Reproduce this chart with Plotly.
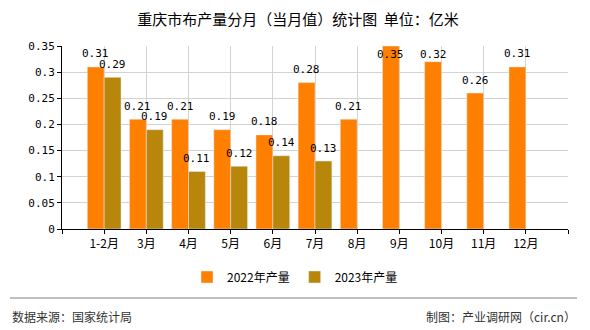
import plotly.graph_objects as go

months = ["1-2月", "3月", "4月", "5月", "6月", "7月", "8月", "9月", "10月", "11月", "12月"]
prod_2022 = [0.31, 0.21, 0.21, 0.19, 0.18, 0.28, 0.21, 0.35, 0.32, 0.26, 0.31]
prod_2023 = [0.29, 0.19, 0.11, 0.12, 0.14, 0.13, None, None, None, None, None]
y_ticks = [0, 0.05, 0.1, 0.15, 0.2, 0.25, 0.3, 0.35]
y_tick_text = ["0", "0.05", "0.1", "0.15", "0.2", "0.25", "0.3", "0.35"]

xpos = list(range(len(months)))
font_cjk = "Noto Sans CJK SC, DejaVu Sans, sans-serif"
font_num = "DejaVu Sans Mono, Liberation Mono, monospace"

Y_MAX = 0.35
PLOT_H = 183  # pixel height of plotting area
PLOT_W = 506

fig = go.Figure()
fig.add_trace(go.Bar(x=xpos, y=prod_2022, name="2022年产量", marker_color="#FF8000"))
fig.add_trace(go.Bar(x=xpos, y=prod_2023, name="2023年产量", marker_color="#B8860B"))

# value labels above bars (clamped inside plotting area)
for series, off in ((prod_2022, -0.2), (prod_2023, 0.2)):
    for i, v in zip(xpos, series):
        if v is None:
            continue
        p = v / Y_MAX * PLOT_H
        shift = min(13, (PLOT_H - 8) - p)
        fig.add_annotation(x=i + off, y=v, text=f"{v:.2f}", showarrow=False,
                           xanchor="center", yanchor="middle", yshift=shift,
                           font=dict(family=font_num, size=11, color="#000000"))

fig.update_layout(
    width=590, height=330,
    margin=dict(l=62, r=22, t=46, b=101),
    paper_bgcolor="#FFFFFF", plot_bgcolor="#FFFFFF",
    font=dict(family=font_cjk, size=12, color="#000000"),
    barmode="group", bargap=0.2, bargroupgap=0,
    title=dict(text="重庆市布产量分月（当月值）统计图  单位：亿米", x=298/590, xanchor="center",
               y=1 - 20/330, yanchor="middle", font=dict(family=font_cjk, size=15, color="#000000")),
    showlegend=True,
    legend=dict(orientation="h", x=(295 - 62) / PLOT_W, xanchor="center",
                y=-(277 - 229) / PLOT_H, yanchor="middle",
                font=dict(family=font_cjk, size=12, color="#000000"), itemwidth=30,
                traceorder="normal"),
)
fig.update_xaxes(
    range=[-1, 11],
    tickvals=[-1] + xpos + [11], ticktext=[""] + months + [""],
    showline=True, linecolor="#000000", linewidth=1,
    ticks="outside", ticklen=4, tickcolor="#000000",
    showgrid=True, gridcolor="#D3D3D3", gridwidth=1,
    zeroline=False, tickfont=dict(family=font_cjk, size=12),
)
fig.update_yaxes(
    range=[0, Y_MAX], tickvals=y_ticks, ticktext=y_tick_text,
    showline=True, linecolor="#000000", linewidth=1,
    ticks="outside", ticklen=4, tickcolor="#000000",
    showgrid=True, gridcolor="#D3D3D3", gridwidth=1,
    zeroline=False, tickfont=dict(family=font_num, size=11),
)

fig.add_shape(type="line", xref="paper", yref="paper", x0=-52 / PLOT_W, x1=(577 - 62) / PLOT_W,
              y0=-(298 - 229) / PLOT_H, y1=-(298 - 229) / PLOT_H, line=dict(color="#808080", width=1))
fig.add_annotation(text="数据来源：国家统计局", xref="paper", yref="paper",
                   x=-52 / PLOT_W, xanchor="left", y=-(316 - 229) / PLOT_H, yanchor="middle",
                   showarrow=False, font=dict(family=font_cjk, size=12, color="#333333"))
fig.add_annotation(text="制图：产业调研网（cir.cn）", xref="paper", yref="paper",
                   x=(578 - 62) / PLOT_W, xanchor="right", y=-(316 - 229) / PLOT_H, yanchor="middle",
                   showarrow=False, font=dict(family=font_cjk, size=12, color="#333333"))

fig.write_html("out.html")
